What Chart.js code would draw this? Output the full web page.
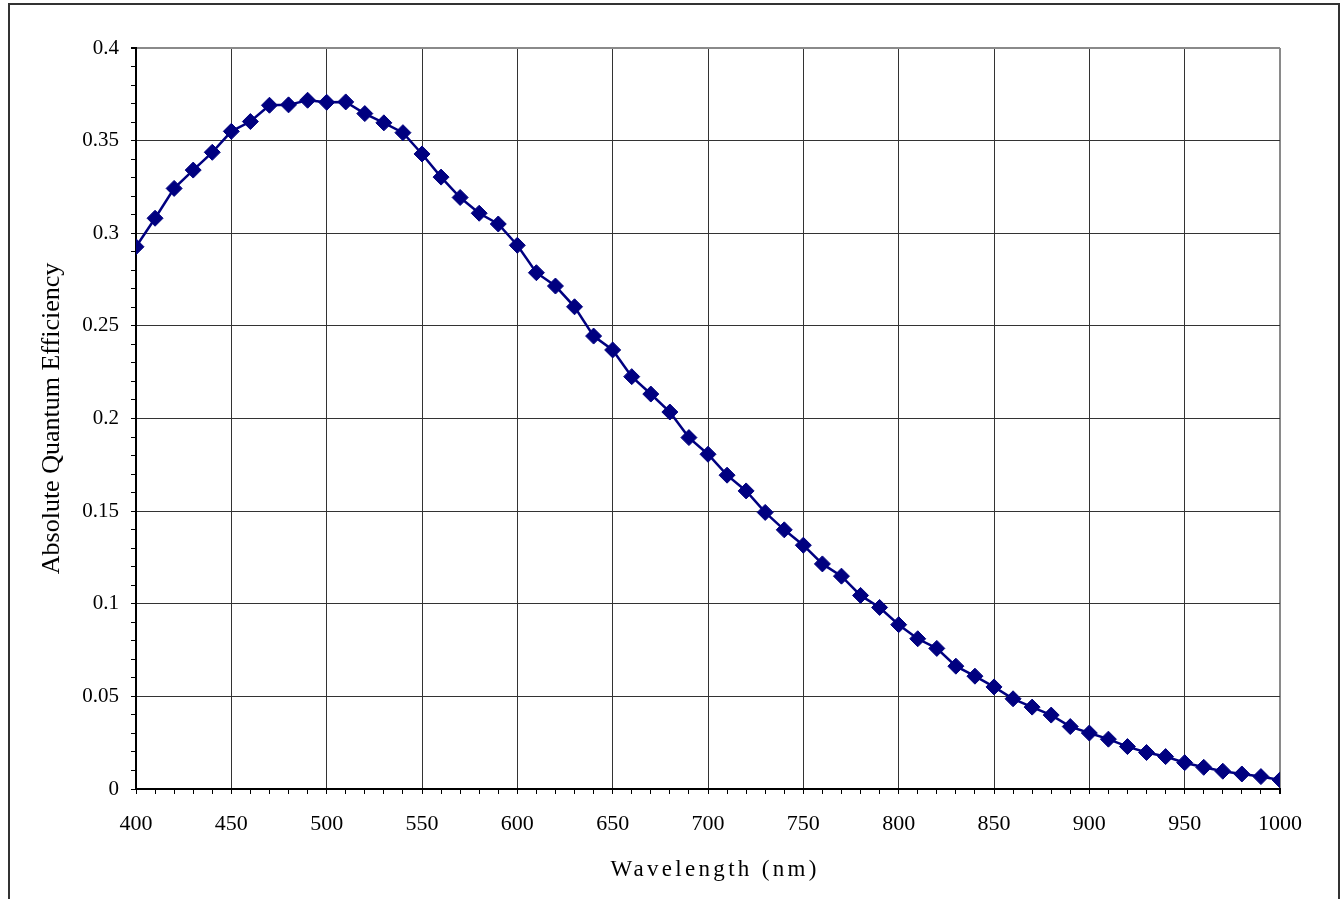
<!DOCTYPE html>
<html>
<head>
<meta charset="utf-8">
<script src="https://cdn.jsdelivr.net/npm/chart.js@4/dist/chart.umd.min.js"></script>
<style>
  html, body { margin: 0; padding: 0; background: #fff; overflow: hidden; }
  #wrap { position: relative; width: 1340px; height: 899px; }
  #frame { position: absolute; left: 8px; top: 3px; width: 1328px; height: 1000px; border: 2px solid #333; pointer-events: none; }
  canvas { position: absolute; left: 0; top: 0; }
</style>
</head>
<body>
<div id="wrap">
  <canvas id="grafico" width="1340" height="899"></canvas>
  <div id="frame"></div>
</div>
<script>
  // wavelength in nm, one point every 10 nm
  const wavelengths = [400, 410, 420, 430, 440, 450, 460, 470, 480, 490,
    500, 510, 520, 530, 540, 550, 560, 570, 580, 590,
    600, 610, 620, 630, 640, 650, 660, 670, 680, 690,
    700, 710, 720, 730, 740, 750, 760, 770, 780, 790,
    800, 810, 820, 830, 840, 850, 860, 870, 880, 890,
    900, 910, 920, 930, 940, 950, 960, 970, 980, 990, 1000];

  const efficiency = [0.2927, 0.3081, 0.3242, 0.3341, 0.3437, 0.3550, 0.3603, 0.3691, 0.3693, 0.3718,
    0.3707, 0.3709, 0.3646, 0.3596, 0.3543, 0.3428, 0.3303, 0.3193, 0.3108, 0.3050,
    0.2935, 0.2787, 0.2715, 0.2603, 0.2445, 0.2370, 0.2226, 0.2132, 0.2035, 0.1897,
    0.1807, 0.1694, 0.1609, 0.1493, 0.1399, 0.1316, 0.1215, 0.1149, 0.1045, 0.0980,
    0.0887, 0.0811, 0.0759, 0.0663, 0.0609, 0.0551, 0.0487, 0.0442, 0.0399, 0.0337,
    0.0302, 0.0269, 0.0229, 0.0197, 0.0175, 0.0142, 0.0117, 0.0096, 0.0081, 0.0067, 0.0049];

  const xMin = 400, xMax = 1000, xMajor = 50, xMinor = 10;
  const yMin = 0, yMax = 0.4, yMajor = 0.05, yMinor = 0.01;

  const xTitle = 'Wavelength (nm)';
  const yTitle = 'Absolute Quantum Efficiency';
  const fonte = '"Liberation Serif", "Times New Roman", serif';

  function isMajor(v, step) {
    const k = v / step;
    return Math.abs(k - Math.round(k)) < 1e-6;
  }

  // x axis title is drawn by hand because it is letter-spaced
  const xTitlePlugin = {
    id: 'xTitle',
    afterDraw(chart) {
      const ctx = chart.ctx;
      ctx.save();
      ctx.font = '23px ' + fonte;
      ctx.letterSpacing = '3.3px';
      ctx.fillStyle = '#000';
      ctx.textAlign = 'center';
      ctx.textBaseline = 'middle';
      ctx.fillText(xTitle, 715, 870);
      ctx.restore();
    }
  };

  const dados = wavelengths.map((w, i) => ({ x: w, y: efficiency[i] }));

  new Chart(document.getElementById('grafico').getContext('2d'), {
    type: 'line',
    data: {
      datasets: [{
        label: 'QE',
        data: dados,
        borderColor: '#000080',
        backgroundColor: '#000080',
        borderWidth: 2.5,
        tension: 0,
        pointStyle: 'rectRot',
        pointRadius: 8,
        pointBorderWidth: 1,
        pointBackgroundColor: '#000080',
        pointBorderColor: '#000080'
      }]
    },
    options: {
      responsive: false,
      devicePixelRatio: 1,
      animation: false,
      layout: { padding: { top: 48, right: 60, left: 0, bottom: 0 } },
      plugins: {
        legend: { display: false },
        tooltip: { enabled: false }
      },
      scales: {
        x: {
          type: 'linear',
          min: xMin,
          max: xMax,
          afterFit(scale) { scale.height = 110; },
          ticks: {
            stepSize: xMinor,
            autoSkip: false,
            maxTicksLimit: 200,
            maxRotation: 0,
            padding: 17,
            color: '#000',
            font: { family: fonte, size: 22 },
            callback: v => isMajor(v, xMajor) ? String(Math.round(v)) : ''
          },
          grid: {
            color: c => {
              const v = c.tick ? c.tick.value : 0;
              if (!isMajor(v, xMajor)) return 'rgba(0,0,0,0)';
              return v === xMax ? '#8a8a8a' : '#333';
            },
            lineWidth: c => (c.tick && c.tick.value === xMax) ? 2 : 1,
            tickColor: '#000',
            tickLength: 5
          },
          border: { display: true, color: '#000', width: 2 },
          title: { display: false }
        },
        y: {
          min: yMin,
          max: yMax,
          afterFit(scale) { scale.width = 136; },
          ticks: {
            stepSize: yMinor,
            autoSkip: false,
            maxTicksLimit: 200,
            padding: 12,
            color: '#000',
            font: { family: fonte, size: 21 },
            callback: v => isMajor(v, yMajor) ? String(Math.round(v * 100) / 100) : ''
          },
          grid: {
            color: c => {
              const v = c.tick ? c.tick.value : 0;
              if (!isMajor(v, yMajor)) return 'rgba(0,0,0,0)';
              return Math.abs(v - yMax) < 1e-6 ? '#8a8a8a' : '#333';
            },
            lineWidth: c => (c.tick && Math.abs(c.tick.value - yMax) < 1e-6) ? 2 : 1,
            tickColor: '#000',
            tickLength: 5
          },
          border: { display: true, color: '#000', width: 2 },
          title: {
            display: true,
            text: yTitle,
            color: '#000',
            font: { family: fonte, size: 26 },
            padding: { top: 37, bottom: 0 }
          }
        }
      }
    },
    plugins: [xTitlePlugin]
  });
</script>
</body>
</html>
